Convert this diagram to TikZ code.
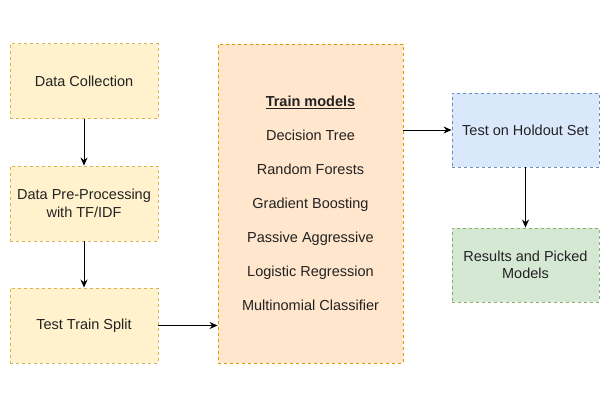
\documentclass[tikz,border=0pt]{standalone}
\usepackage{fontspec}
\setmainfont{Liberation Sans}
\usetikzlibrary{arrows.meta}
\definecolor{ylwfill}{HTML}{FFF2CC}
\definecolor{ylwline}{HTML}{D6B656}
\definecolor{orgfill}{HTML}{FFE6CC}
\definecolor{orgline}{HTML}{D79B00}
\definecolor{blufill}{HTML}{DAE8FC}
\definecolor{bluline}{HTML}{6C8EBF}
\definecolor{grnfill}{HTML}{D5E8D4}
\definecolor{grnline}{HTML}{82B366}
\definecolor{txt}{HTML}{222222}
\tikzset{
  box/.style={rectangle, draw, line width=0.9pt, dash pattern=on 3pt off 3pt,
    align=center, text=txt, inner sep=0pt,
    font=\fontsize{14.5}{17.5}\selectfont},
  ybox/.style={box, fill=ylwfill, draw=ylwline, minimum width=148pt, minimum height=75pt},
  conn/.style={line width=1pt, -{Stealth[length=8pt,width=7pt]}}
}
\begin{document}
\begin{tikzpicture}[x=1pt,y=-1pt]
\useasboundingbox (0,0) rectangle (611,410);
\node[ybox] (dc) at (84,81) {Data Collection};
\node[ybox] (pp) at (84,203.5) {Data Pre-Processing\\with TF/IDF};
\node[ybox] (ts) at (84,325.5) {Test Train Split};
\node[box, fill=orgfill, draw=orgline, minimum width=185pt, minimum height=319pt,
  font=\fontsize{14.5}{34}\selectfont] (tm) at (310.5,203.5)
  {\underline{\textbf{Train models}}\\Decision Tree\\Random Forests\\Gradient Boosting\\Passive Aggressive\\Logistic Regression\\Multinomial Classifier};
\node[box, fill=blufill, draw=bluline, minimum width=147pt, minimum height=74pt] (ho) at (525.5,130) {Test on Holdout Set};
\node[box, fill=grnfill, draw=grnline, minimum width=147pt, minimum height=74pt] (rs) at (525.5,265) {Results and Picked\\Models};
\draw[conn] (dc) -- (pp);
\draw[conn] (pp) -- (ts);
\draw[conn] (ts) -- (ts -| tm.west);
\draw[conn] (tm.east |- ho) -- (ho);
\draw[conn] (ho) -- (rs);
\end{tikzpicture}
\end{document}
